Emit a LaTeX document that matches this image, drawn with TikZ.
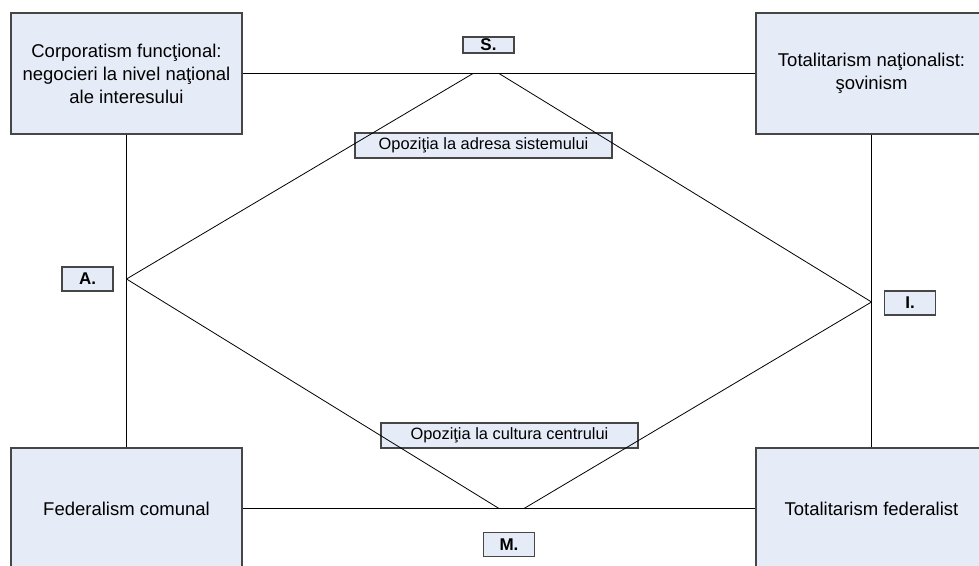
\documentclass[tikz,border=0pt]{standalone}
\usepackage{fontspec}
\setmainfont{Liberation Sans}
\definecolor{boxfill}{RGB}{230,236,247}
\definecolor{boxline}{RGB}{70,70,70}

\begin{document}
\begin{tikzpicture}[x=1pt, y=-1pt, line width=0.8pt,
    big/.style={draw=boxline, line width=1.2pt, fill=boxfill, minimum width=231pt, minimum height=121pt, inner sep=0pt, align=center, font=\fontsize{18.5}{23}\selectfont},
    tag/.style={draw=boxline, line width=1.2pt, fill=boxfill, minimum width=51pt, minimum height=24pt, inner sep=0pt, font=\fontsize{17}{19}\selectfont\bfseries},
    note/.style={draw=boxline, line width=1.2pt, fill=boxfill, minimum width=257pt, minimum height=25pt, inner sep=0pt, font=\fontsize{16.4}{18}\selectfont}]
    \clip (0,0) rectangle (979,565);

    %corners
    \node at (126.5, 73.5) [big] (corp) {Corporatism funcţional:\\negocieri la nivel naţional\\ale interesului};
    \node at (871.5, 73.5) [big] (natio) {Totalitarism naţionalist:\\şovinism};
    \node at (126.5, 508.5) [big] (fedcom) {Federalism comunal};
    \node at (871.5, 508.5) [big] (fedtot) {Totalitarism federalist};

    %frame
    \draw (corp.east) -- (natio.west);
    \draw (corp.south) -- (fedcom.north);
    \draw (natio.south) -- (fedtot.north);
    \draw (fedcom.east) -- (fedtot.west);

    %letters
    \node at (488.5, 45) [tag, minimum height=16pt] (s) {S.};
    \node at (87.5, 279) [tag] (a) {A.};
    \node at (910, 303) [tag] (i) {I.};
    \node at (509, 544.5) [tag] (m) {M.};

    %oppositions
    \node at (483.5, 145.5) [note] (sys) {Opoziţia la adresa sistemului};
    \node at (509.5, 435.5) [note] (cult) {Opoziţia la cultura centrului};

    %diamond
    \coordinate (sl) at (473, 73.5);
    \coordinate (sr) at (499, 73.5);
    \coordinate (av) at (corp.south |- a.east);
    \coordinate (iv) at (871.5, 302);
    \coordinate (ml) at (499, 508.5);
    \coordinate (mr) at (524, 508.5);

    \draw (av) -- (sl);
    \draw (sr) -- (iv);
    \draw (av) -- (ml);
    \draw (iv) -- (mr);
\end{tikzpicture}
\end{document}
